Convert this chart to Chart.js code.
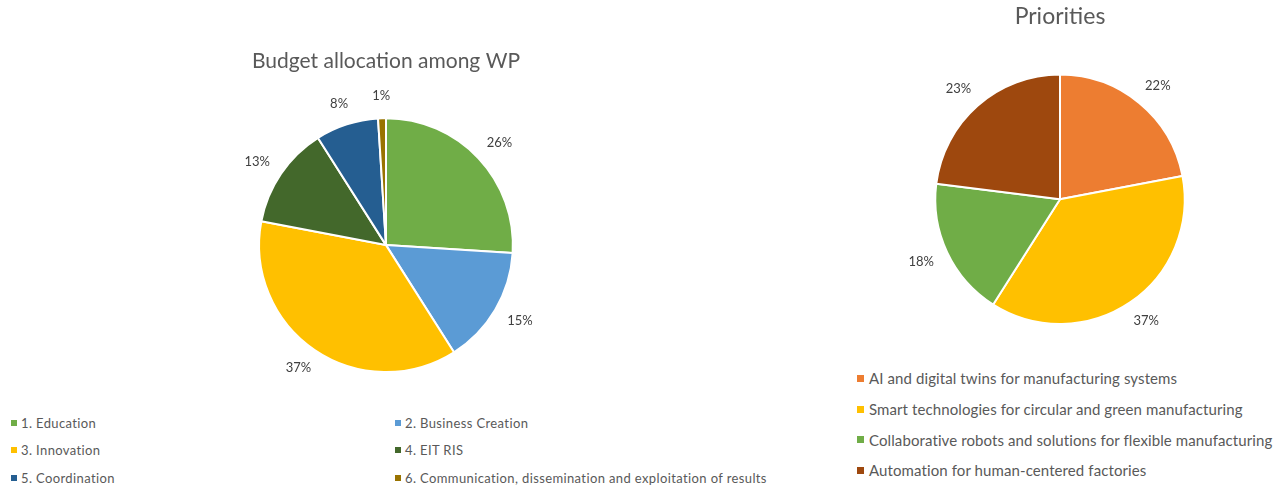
<!DOCTYPE html>
<html lang="en">
<head>
<meta charset="UTF-8">
<title>Budget allocation among WP / Priorities</title>
<script src="https://cdn.jsdelivr.net/npm/chart.js"></script>
<style>
    body {
        margin: 0;
        width: 1281px;
        height: 488px;
        position: relative;
        overflow: hidden;
        background: #fff;
        font-family: Lato, 'Open Sans', sans-serif;
        color: #595959;
    }
    #wpChart { position: absolute; left: 0; top: 0; }
    #prioChart { position: absolute; left: 840px; top: 0; }
    .legend { position: absolute; display: grid; }
    #wpLegend {
        left: 11px; top: 409px;
        grid-template-columns: 384px auto;
        grid-auto-rows: 27.5px;
        font-size: 13px;
        letter-spacing: 0.38px;
    }
    #prioLegend {
        left: 857px; top: 363px;
        grid-auto-rows: 30.7px;
        font-size: 15px;
        letter-spacing: 0.1px;
    }
    .item { display: flex; align-items: center; white-space: nowrap; }
    .swatch { display: inline-block; width: 6px; height: 6px; margin-right: 4px; }
    #prioLegend .swatch { width: 7px; height: 7px; margin-right: 5px; }
</style>
</head>
<body>
<canvas id="wpChart" width="772" height="400"></canvas>
<canvas id="prioChart" width="440" height="340"></canvas>
<div class="legend" id="wpLegend"></div>
<div class="legend" id="prioLegend"></div>

<script>
    // Budget allocation among WP (percent)
    const wpLabels = ['1. Education', '2. Business Creation', '3. Innovation', '4. EIT RIS',
                      '5. Coordination', '6. Communication, dissemination and exploitation of results'];
    const wpValues = [26, 15, 37, 13, 8, 1];
    const wpColors = ['#70AD47', '#5B9BD5', '#FFC000', '#43682B', '#255E91', '#997300'];

    // Priorities (percent)
    const prioLabels = ['AI and digital twins for manufacturing systems',
                        'Smart technologies for circular and green manufacturing',
                        'Collaborative robots and solutions for flexible manufacturing',
                        'Automation for human-centered factories'];
    const prioValues = [22, 37, 18, 23];
    const prioColors = ['#ED7D31', '#FFC000', '#70AD47', '#9E480E'];

    // percentage labels just outside each slice
    const outsideLabels = {
        id: 'outsideLabels',
        afterDatasetsDraw(chart) {
            const ctx = chart.ctx;
            const data = chart.data.datasets[0].data;
            const total = data.reduce((a, b) => a + b, 0);
            ctx.save();
            ctx.font = '13px Lato';
            ctx.fillStyle = '#404040';
            ctx.textAlign = 'center';
            ctx.textBaseline = 'middle';
            chart.getDatasetMeta(0).data.forEach((arc, i) => {
                const p = arc.getProps(['x', 'y', 'startAngle', 'endAngle', 'outerRadius'], true);
                const mid = (p.startAngle + p.endAngle) / 2;
                const dx = Math.cos(mid), dy = Math.sin(mid);
                const text = Math.round(data[i] / total * 100) + '%';
                const w = ctx.measureText(text).width;
                const r = p.outerRadius + 16;
                ctx.fillText(text, p.x + dx * (r + w / 2), p.y + dy * (r + 6));
            });
            ctx.restore();
        }
    };

    function makePie(id, labels, values, colors, title, titleOpts, padBottom) {
        return new Chart(document.getElementById(id), {
            type: 'pie',
            data: {
                labels: labels,
                datasets: [{
                    data: values,
                    backgroundColor: colors,
                    borderColor: '#ffffff',
                    borderWidth: 2
                }]
            },
            options: {
                responsive: false,
                animation: false,
                layout: { padding: { bottom: padBottom } },
                plugins: {
                    legend: { display: false },
                    tooltip: { enabled: false },
                    title: {
                        display: true,
                        text: title,
                        color: '#595959',
                        font: { family: 'Lato', size: titleOpts.size, weight: 'normal' },
                        padding: { top: titleOpts.top, bottom: titleOpts.bottom }
                    }
                }
            },
            plugins: [outsideLabels]
        });
    }

    makePie('wpChart', wpLabels, wpValues, wpColors, 'Budget allocation among WP',
            { size: 21, top: 49, bottom: 43 }, 27);
    makePie('prioChart', prioLabels, prioValues, prioColors, 'Priorities',
            { size: 23, top: 3, bottom: 43 }, 15);

    function buildLegend(id, labels, colors) {
        const box = document.getElementById(id);
        labels.forEach((lab, i) => {
            const item = document.createElement('div');
            item.className = 'item';
            const sw = document.createElement('span');
            sw.className = 'swatch';
            sw.style.background = colors[i];
            item.appendChild(sw);
            item.appendChild(document.createTextNode(lab));
            box.appendChild(item);
        });
    }
    buildLegend('wpLegend', wpLabels, wpColors);
    buildLegend('prioLegend', prioLabels, prioColors);
</script>
</body>
</html>
